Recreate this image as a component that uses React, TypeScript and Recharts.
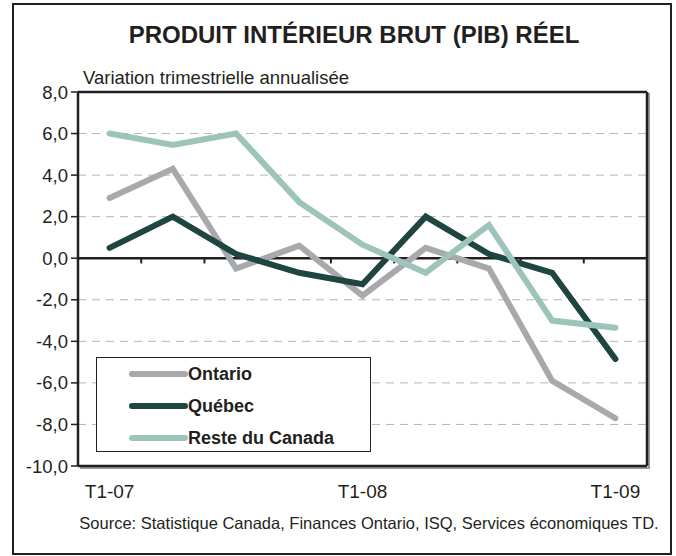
import { CartesianGrid, Legend, Line, LineChart, ReferenceLine, XAxis, YAxis } from 'recharts'

const quarters = ['T1-07', 'T2-07', 'T3-07', 'T4-07', 'T1-08', 'T2-08', 'T3-08', 'T4-08', 'T1-09']
const ontario = [2.9, 4.3, -0.5, 0.6, -1.8, 0.5, -0.5, -5.9, -7.7]
const quebec = [0.5, 2.0, 0.2, -0.7, -1.25, 2.0, 0.2, -0.7, -4.85]
const resteDuCanada = [6.0, 5.45, 6.0, 2.7, 0.65, -0.7, 1.6, -3.0, -3.35]
const yTicks = [-10, -8, -6, -4, -2, 0, 2, 4, 6, 8]
const labelledQuarters = ['T1-07', 'T1-08', 'T1-09']

const FONT = 'Arial, "Liberation Sans", sans-serif'
const INK = '#231f20'

// x is the quarter index, points sit in the middle of each quarter's slot
const chartData = quarters.map((q, i) => ({
  q,
  x: i + 0.5,
  ontario: ontario[i],
  quebec: quebec[i],
  reste: resteDuCanada[i],
}))
const xTicks = labelledQuarters.map((q) => quarters.indexOf(q) + 0.5)
const boundaries = quarters.slice(1).map((_, i) => i + 1)

const LegendBox = ({ payload }: any) => (
  <div
    style={{
      width: 275,
      height: 95,
      boxSizing: 'border-box',
      border: `1.5px solid ${INK}`,
      background: '#fff',
    }}
  >
    {(payload || []).map((p: any) => (
      <div key={p.value} style={{ display: 'flex', alignItems: 'center', height: 32 }}>
        <svg width={91} height={12} style={{ flex: 'none' }}>
          <line x1={35} y1={6} x2={88} y2={6} stroke={p.color} strokeWidth={6} strokeLinecap="round" />
        </svg>
        <span style={{ font: `bold 18px ${FONT}`, color: INK }}>{p.value}</span>
      </div>
    ))}
  </div>
)

export default function App() {
  return (
    <div style={{ position: 'absolute', left: 0, top: 0, width: 676, height: 556, background: '#fff', fontFamily: FONT }}>
      <div
        style={{
          position: 'absolute',
          left: 12,
          top: 3,
          width: 660,
          height: 552,
          boxSizing: 'border-box',
          border: `2.5px solid ${INK}`,
        }}
      />
      <div style={{ position: 'absolute', left: 16, width: 676, top: 21, textAlign: 'center', font: `bold 24px ${FONT}`, color: INK }}>
        PRODUIT INTÉRIEUR BRUT (PIB) RÉEL
      </div>
      <div style={{ position: 'absolute', left: 83, top: 67, font: `18.5px ${FONT}`, color: INK }}>
        Variation trimestrielle annualisée
      </div>
      <div style={{ position: 'absolute', left: 0, width: 738, top: 514, textAlign: 'center', font: `16.5px ${FONT}`, color: INK }}>
        Source: Statistique Canada, Finances Ontario, ISQ, Services économiques TD.
      </div>
      <div style={{ position: 'absolute', left: 78, top: 91, width: 570, height: 376, boxShadow: '2px 2px 0 #9a9a9a' }} />

      <div style={{ position: 'absolute', left: 0, top: 0 }}>
        <LineChart width={676} height={556} data={chartData} margin={{ top: 92, right: 29, bottom: 50, left: 18 }}>
          <CartesianGrid vertical={false} stroke="#b5b5b5" strokeDasharray="8 6" />
          <XAxis
            dataKey="x"
            type="number"
            domain={[0, 9]}
            ticks={xTicks}
            tickFormatter={(v) => quarters[Math.floor(v)]}
            axisLine={false}
            tickLine={false}
            height={40}
            tickMargin={13}
            tick={{ fill: INK, fontSize: 19, fontFamily: FONT }}
          />
          <YAxis
            domain={[-10, 8]}
            ticks={yTicks}
            interval={0}
            width={60}
            tickFormatter={(v) => v.toFixed(1).replace('.', ',')}
            axisLine={{ stroke: INK, strokeWidth: 2.5 }}
            tickLine={{ stroke: INK, strokeWidth: 1.5 }}
            tickSize={7}
            tickMargin={3}
            tick={{ fill: INK, fontSize: 18.5, fontFamily: FONT }}
          />
          <ReferenceLine y={8} stroke={INK} strokeWidth={2.5} />
          <ReferenceLine y={-10} stroke={INK} strokeWidth={2.5} />
          <ReferenceLine x={9} stroke={INK} strokeWidth={2.5} />
          <ReferenceLine y={0} stroke={INK} strokeWidth={2.5} />
          {boundaries.map((b) => (
            <ReferenceLine
              key={b}
              segment={[
                { x: b, y: 0 },
                { x: b, y: -0.25 },
              ]}
              stroke={INK}
              strokeWidth={2}
            />
          ))}
          <Legend
            layout="vertical"
            align="center"
            verticalAlign="middle"
            wrapperStyle={{ position: 'absolute', left: 96, top: 357, width: 275 }}
            content={<LegendBox />}
          />
          <Line
            dataKey="ontario"
            name="Ontario"
            stroke="#a7a9ac"
            strokeWidth={6}
            strokeLinecap="round"
            dot={false}
            activeDot={false}
            isAnimationActive={false}
          />
          <Line
            dataKey="quebec"
            name="Québec"
            stroke="#1e4540"
            strokeWidth={6}
            strokeLinecap="round"
            dot={false}
            activeDot={false}
            isAnimationActive={false}
          />
          <Line
            dataKey="reste"
            name="Reste du Canada"
            stroke="#9dc4ba"
            strokeWidth={6}
            strokeLinecap="round"
            dot={false}
            activeDot={false}
            isAnimationActive={false}
          />
        </LineChart>
      </div>
    </div>
  )
}
